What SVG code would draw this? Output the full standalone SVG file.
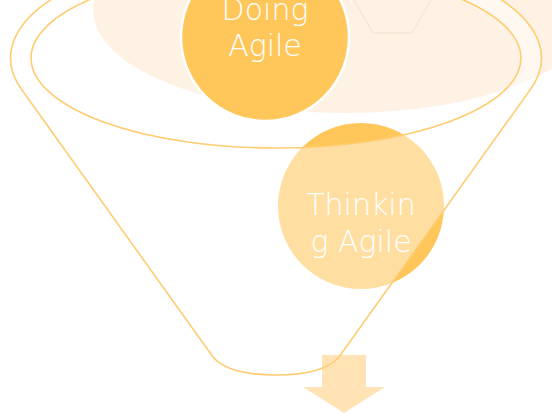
<svg xmlns="http://www.w3.org/2000/svg" width="552" height="414" viewBox="0 0 552 414">
<style>
.lbl{font-family:"DejaVu Sans","Liberation Sans",sans-serif;font-size:30px;font-weight:200;fill:#ffffff;text-anchor:middle}
.rim{fill:none;stroke:#ffcc70;stroke-width:1.6}
</style>
<rect x="0" y="0" width="552" height="414" fill="#ffffff"/>
<g id="backdrop">
<ellipse cx="345" cy="10" rx="252" ry="103" fill="#fef2e4"/>
<polygon points="353.5,-1 373,-34.8 412,-34.8 431.5,-1 412,33 373,33" fill="none" stroke="#f1e2cf" stroke-width="1"/>
</g>
<g id="doing">
<circle cx="265" cy="37" r="84" fill="#ffc65a" stroke="#ffffff" stroke-width="2.5"/>
<text class="lbl" x="265" y="20">Doing</text>
<text class="lbl" x="265" y="56">Agile</text>
</g>
<g id="thinking">
<circle cx="361" cy="206" r="83" fill="#ffc65a"/>
</g>
<g id="funnel">
<path d="M22,90 A265.5,110 0 1 1 530,90 L339,357 C327,371 302,375 276,375 C250,375 225,371 213,357 Z M31,58 A245,90 0 1 0 521,58 A245,90 0 1 0 31,58 Z" fill="#ffffff" fill-opacity="0.43" fill-rule="evenodd"/>
</g>
<g id="thinking-label">
<text class="lbl" x="361" y="215">Thinkin</text>
<text class="lbl" x="361" y="252">g Agile</text>
</g>
<g id="arrow">
<path d="M322,355 L366,355 L366,387 L385,387 L344,413 L303,387 L322,387 Z" fill="#ffe3b5"/>
</g>
<g id="connectors">
<path class="rim" d="M22,90 A265.5,110 0 1 1 530,90 L339,357 C327,371 302,375 276,375 C250,375 225,371 213,357 Z"/>
<ellipse class="rim" cx="276" cy="58" rx="245" ry="90"/>
</g>
</svg>
